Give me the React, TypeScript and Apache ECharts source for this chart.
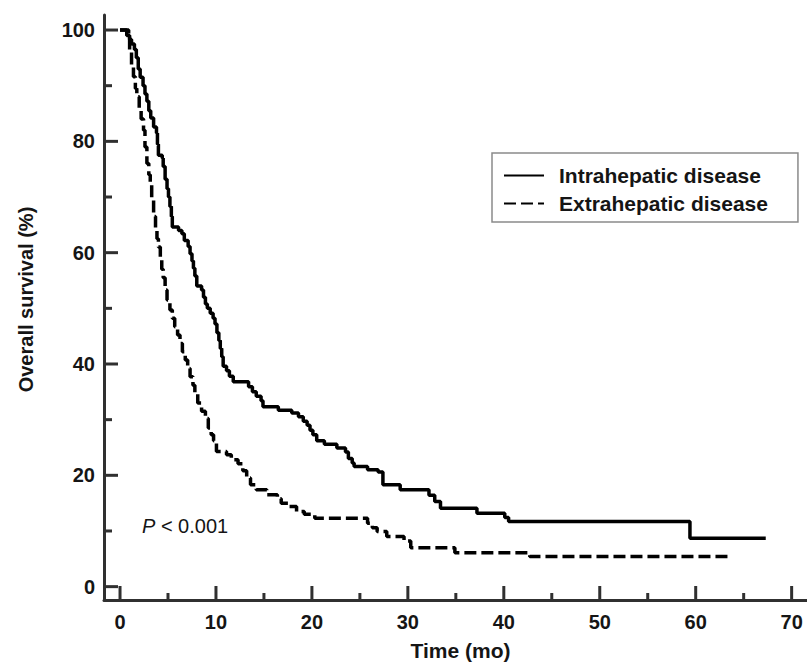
import React, { useEffect, useRef } from "react";
import * as echarts from "echarts";

// Kaplan-Meier curves: time (months) at which survival (%) drops to the given value
const intraTime = [0, 0.7, 1.0, 1.2, 1.5, 1.7, 1.9, 2.1, 2.4, 2.6, 2.8, 3.0, 3.2, 3.5, 3.8, 3.9, 4.0, 4.4, 4.5, 4.7, 4.9, 5.05, 5.2, 5.35, 5.45, 6.1, 6.45, 6.7, 7.1, 7.3, 7.5, 7.65, 7.8, 8.0, 8.5, 8.7, 8.9, 9.1, 9.4, 9.7, 9.9, 10.1, 10.3, 10.45, 10.6, 10.75, 11.1, 11.4, 11.8, 13.4, 13.8, 14.2, 14.7, 14.9, 16.5, 17.9, 18.6, 19.1, 19.5, 19.8, 20.1, 20.5, 21.3, 22.6, 23.5, 23.8, 24.2, 24.4, 25.8, 26.9, 27.4, 29.2, 32.2, 32.8, 33.4, 37.2, 40.1, 40.5, 59.4, 67.3];
const intraSurv = [100, 99, 98.3, 97.5, 96.5, 95, 93, 91.5, 90, 88.5, 87.2, 85.5, 84.2, 82.6, 81.5, 79.5, 77.5, 77, 75.5, 73.2, 71.5, 70, 68.3, 66.5, 64.6, 64.0, 63.4, 62.2, 61.1, 59.8, 58.5, 57.2, 55.8, 54.0, 53.3, 52.0, 50.8, 50.0, 49.1, 48.2, 47.2, 45.6, 44.2, 42.8, 41.3, 39.6, 38.8, 37.8, 36.8, 35.9, 35.0, 34.2, 33.4, 32.3, 31.7, 31.2, 30.5, 29.7, 29.0, 28.1, 27.3, 26.2, 25.6, 24.9, 24.2, 23.0, 22.2, 21.6, 21.0, 20.6, 18.3, 17.4, 16.4, 15.3, 14.1, 13.2, 12.4, 11.7, 8.7, 8.7];

const extraTime = [0, 0.9, 1.0, 1.2, 1.4, 1.6, 1.75, 2.0, 2.2, 2.45, 2.6, 2.8, 3.0, 3.15, 3.3, 3.5, 3.7, 3.85, 4.0, 4.2, 4.35, 4.5, 4.7, 4.9, 5.2, 5.45, 5.7, 6.0, 6.25, 6.5, 6.8, 7.05, 7.3, 7.6, 7.8, 8.1, 8.5, 8.9, 9.2, 9.5, 9.75, 10.05, 11.1, 11.6, 12.3, 12.8, 13.2, 13.6, 14.2, 15.3, 16.4, 16.8, 17.5, 18.4, 19.2, 20.3, 25.8, 26.3, 26.8, 27.8, 29.6, 30.3, 34.9, 42.7, 63.8];
const extraSurv = [100, 98.8, 96, 93.5, 91.6, 89.5, 88, 86, 84, 82, 79, 76, 74, 72.5, 69.5, 66.5, 64.5, 62.5, 61, 59, 57, 55.5, 53.3, 51.5, 49.7, 48.2, 46.7, 45.2, 43.7, 42.2, 40.7, 39.2, 37.7, 36.2, 34.7, 33.0, 31.5, 30.2, 28.5, 27.3, 26.2, 24.3, 23.7, 22.8, 22.1, 20.8, 19.5, 18.3, 17.4, 16.5, 15.8, 15.0, 14.4, 13.5, 13.0, 12.3, 11.4, 10.6, 9.9, 9.0, 8.2, 7.0, 6.1, 5.4, 5.4];

const seriesNames = ["Intrahepatic disease", "Extrahepatic disease"];
const xMajorTicks = [0, 10, 20, 30, 40, 50, 60, 70];
const xMinorTicks = [5, 15, 25, 35, 45, 55, 65];
const yMajorTicks = [0, 20, 40, 60, 80, 100];
const yMinorTicks = [10, 30, 50, 70, 90];
// drawn axis lines reach a little past the tick range (offset corner)
const xLineExtent = [-1.67, 71.6];
const yLineExtent = [-2.4, 102.7];
const xTitle = "Time (mo)";
const yTitle = "Overall survival (%)";
const pText = "{i|P} < 0.001";

const FONT = "'Liberation Sans', Arial, sans-serif";
const AX = "#303030";
const TXT = "#151515";
const AXIS_W = 3;
const MAJOR_LEN = 14;
const X_MINOR_LEN = 7;
const Y_MINOR_LEN = 8;

export default function App() {
  const ref = useRef<HTMLDivElement>(null);
  useEffect(() => {
    document.body.style.margin = "0";
    const chart = echarts.init(ref.current!, null, { renderer: "svg" });
    const intraData = intraTime.map((t, i) => [t, intraSurv[i]]);
    const extraData = extraTime.map((t, i) => [t, extraSurv[i]]);
    const tickLines: any[] = [];
    const xTickSets: [number[], number][] = [[xMajorTicks, MAJOR_LEN], [xMinorTicks, X_MINOR_LEN]];
    const yTickSets: [number[], number][] = [[yMajorTicks, MAJOR_LEN], [yMinorTicks, Y_MINOR_LEN]];
    chart.setOption({
      animation: false,
      backgroundColor: "#ffffff",
      textStyle: { fontFamily: FONT },
      grid: { left: 104, right: 0, top: 15, bottom: 67 },
      xAxis: {
        type: "value",
        position: "bottom",
        min: xLineExtent[0],
        max: xLineExtent[1],
        axisLine: { show: true, onZero: false, lineStyle: { color: AX, width: AXIS_W } },
        axisTick: { show: false },
        splitLine: { show: false },
        axisLabel: { customValues: xMajorTicks, margin: 12, fontSize: 20, fontWeight: "bold", color: TXT, fontFamily: FONT },
        name: xTitle,
        nameLocation: "middle",
        nameGap: 40,
        nameTextStyle: { fontSize: 21, fontWeight: "bold", color: TXT, fontFamily: FONT, padding: [0, 0, 0, 10] },
      },
      yAxis: {
        type: "value",
        position: "left",
        min: yLineExtent[0],
        max: yLineExtent[1],
        axisLine: { show: true, onZero: false, lineStyle: { color: AX, width: AXIS_W } },
        axisTick: { show: false },
        splitLine: { show: false },
        axisLabel: { customValues: yMajorTicks, margin: 9, fontSize: 20, fontWeight: "bold", color: TXT, fontFamily: FONT },
        name: yTitle,
        nameLocation: "middle",
        nameGap: 68,
        nameTextStyle: { fontSize: 20, fontWeight: "bold", color: TXT, fontFamily: FONT, padding: [0, 0, 0, 16] },
      },
      legend: {
        orient: "vertical",
        left: 492,
        top: 153,
        padding: [12, 30, 8, 11],
        itemGap: 7,
        itemWidth: 40,
        itemHeight: 14,
        borderColor: "#8a8a8a",
        borderWidth: 1.5,
        backgroundColor: "#ffffff",
        data: seriesNames,
        itemStyle: { opacity: 0 },
        textStyle: { fontSize: 21, fontWeight: "bold", color: TXT, fontFamily: FONT, lineHeight: 20, padding: [0, 0, 0, 10] },
      },
      series: [
        {
          name: seriesNames[0],
          type: "line",
          step: "end",
          symbol: "none",
          data: intraData,
          lineStyle: { color: "#000000", width: 3.5 },
          itemStyle: { color: "#000000" },
        },
        {
          name: seriesNames[1],
          type: "line",
          step: "end",
          symbol: "none",
          data: extraData,
          lineStyle: { color: "#000000", width: 3.5, type: [12, 5] },
          itemStyle: { color: "#000000" },
        },
      ],
    });
    // axis ticks: positioned through the chart's own axis scales
    xTickSets.forEach(([vals, len]) =>
      vals.forEach((v) => {
        const p = chart.convertToPixel({ gridIndex: 0 }, [v, yLineExtent[0]]) as number[];
        tickLines.push({ type: "line", silent: true, z: 5, shape: { x1: p[0], y1: p[1], x2: p[0], y2: p[1] - len }, style: { stroke: AX, lineWidth: AXIS_W } });
      })
    );
    yTickSets.forEach(([vals, len]) =>
      vals.forEach((v) => {
        const p = chart.convertToPixel({ gridIndex: 0 }, [xLineExtent[0], v]) as number[];
        tickLines.push({ type: "line", silent: true, z: 5, shape: { x1: p[0], y1: p[1], x2: p[0] + len, y2: p[1] }, style: { stroke: AX, lineWidth: AXIS_W } });
      })
    );
    chart.setOption({
      graphic: [
        ...tickLines,
        {
          type: "text",
          left: 142,
          top: 516,
          style: {
            text: pText,
            fontSize: 20,
            fontFamily: FONT,
            fill: TXT,
            rich: { i: { fontStyle: "italic", fontSize: 20, fontFamily: FONT, fill: TXT } },
          },
        },
      ],
    });
    return () => chart.dispose();
  }, []);
  return <div ref={ref} style={{ width: 807, height: 667 }} />;
}
